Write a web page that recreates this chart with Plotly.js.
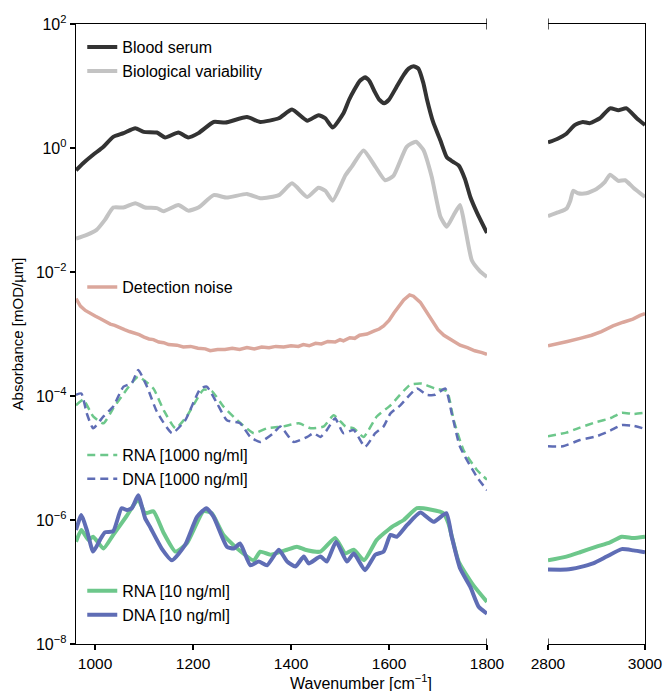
<!DOCTYPE html>
<html>
<head>
<meta charset="utf-8">
<script src="https://cdn.plot.ly/plotly-3.0.1.min.js"></script>
<style>html,body{margin:0;padding:0;background:#fff;}#chart{width:663px;height:691px;}</style>
</head>
<body>
<div id="chart"></div>
<script>
// ---- Data (values given as log10 of absorbance in mOD/µm) ----
const serumWnL = [961, 975, 996, 1017, 1037, 1058, 1082, 1099, 1126, 1143, 1170, 1190, 1211, 1242, 1266, 1310, 1337, 1375, 1402, 1433, 1456, 1470, 1485, 1507, 1518, 1530, 1540, 1551, 1560, 1570, 1580, 1590, 1600, 1615, 1630, 1640, 1650, 1660, 1670, 1677, 1690, 1705, 1718, 1730, 1742, 1755, 1766, 1780, 1800];
const serumLogL = [-0.36, -0.25, -0.11, 0.02, 0.18, 0.24, 0.32, 0.26, 0.25, 0.17, 0.25, 0.17, 0.24, 0.42, 0.41, 0.50, 0.42, 0.48, 0.62, 0.44, 0.53, 0.48, 0.33, 0.56, 0.77, 0.95, 1.08, 1.14, 1.08, 0.92, 0.78, 0.72, 0.78, 0.98, 1.18, 1.28, 1.32, 1.28, 1.05, 0.80, 0.42, 0.12, -0.15, -0.22, -0.28, -0.50, -0.79, -1.05, -1.37];
const serumWnR = [2800, 2820, 2838, 2855, 2872, 2886, 2907, 2928, 2945, 2962, 2983, 3000];
const serumLogR = [0.09, 0.15, 0.23, 0.37, 0.42, 0.40, 0.48, 0.64, 0.61, 0.64, 0.48, 0.37];

const bioWnL = [961, 983, 1003, 1020, 1037, 1058, 1082, 1102, 1126, 1140, 1170, 1190, 1211, 1242, 1269, 1310, 1337, 1375, 1402, 1433, 1456, 1470, 1485, 1511, 1524, 1548, 1572, 1592, 1609, 1636, 1655, 1670, 1687, 1705, 1718, 1732, 1745, 1755, 1769, 1785, 1800];
const bioLogL = [-1.46, -1.40, -1.32, -1.16, -0.96, -0.96, -0.89, -0.96, -0.97, -1.02, -0.92, -1.01, -0.96, -0.76, -0.80, -0.74, -0.81, -0.76, -0.57, -0.79, -0.64, -0.69, -0.85, -0.44, -0.30, -0.04, -0.30, -0.52, -0.45, 0.02, 0.10, -0.03, -0.46, -1.11, -1.27, -1.08, -0.92, -1.27, -1.81, -1.98, -2.08];
const bioWnR = [2800, 2820, 2838, 2846, 2852, 2862, 2879, 2900, 2917, 2928, 2945, 2959, 2976, 3000];
const bioLogR = [-1.10, -1.04, -0.98, -0.85, -0.69, -0.73, -0.73, -0.66, -0.55, -0.43, -0.53, -0.52, -0.64, -0.79];

const noiseWnL = [961, 970, 980, 990, 1000, 1010, 1020, 1031, 1040, 1050, 1060, 1070, 1078, 1090, 1100, 1110, 1119, 1130, 1140, 1150, 1167, 1180, 1195, 1210, 1225, 1235, 1250, 1265, 1280, 1295, 1310, 1325, 1340, 1355, 1369, 1385, 1400, 1415, 1425, 1437, 1450, 1462, 1475, 1490, 1500, 1507, 1520, 1530, 1540, 1555, 1570, 1580, 1589, 1600, 1610, 1620, 1630, 1642, 1650, 1664, 1675, 1690, 1700, 1712, 1725, 1735, 1745, 1760, 1775, 1790, 1800];
const noiseLogL = [-2.43, -2.55, -2.62, -2.67, -2.71, -2.75, -2.80, -2.84, -2.86, -2.90, -2.93, -2.96, -2.98, -3.01, -3.05, -3.08, -3.09, -3.13, -3.14, -3.17, -3.18, -3.21, -3.20, -3.23, -3.24, -3.27, -3.25, -3.25, -3.23, -3.25, -3.22, -3.24, -3.21, -3.22, -3.20, -3.21, -3.19, -3.20, -3.17, -3.19, -3.15, -3.16, -3.12, -3.13, -3.09, -3.11, -3.06, -3.07, -3.02, -3.00, -2.95, -2.92, -2.87, -2.78, -2.66, -2.55, -2.45, -2.37, -2.39, -2.49, -2.62, -2.80, -2.93, -3.02, -3.08, -3.12, -3.18, -3.22, -3.27, -3.30, -3.33];
const noiseWnR = [2800, 2820, 2840, 2866, 2890, 2910, 2934, 2955, 2975, 2990, 3000];
const noiseLogR = [-3.19, -3.16, -3.12, -3.07, -3.02, -2.96, -2.87, -2.81, -2.76, -2.70, -2.67];

const rna1000WnL = [961, 976, 996, 1017, 1037, 1064, 1088, 1119, 1140, 1164, 1187, 1221, 1238, 1262, 1290, 1324, 1351, 1385, 1416, 1440, 1467, 1487, 1511, 1528, 1548, 1575, 1603, 1643, 1667, 1694, 1718, 1732, 1752, 1779, 1800];
const rna1000LogL = [-4.15, -4.06, -4.33, -4.44, -4.20, -3.90, -3.69, -3.88, -4.23, -4.52, -4.33, -3.90, -3.92, -4.17, -4.39, -4.60, -4.52, -4.49, -4.44, -4.52, -4.49, -4.31, -4.49, -4.52, -4.66, -4.33, -4.15, -3.82, -3.80, -3.88, -3.92, -4.39, -4.87, -5.19, -5.35];
const rna1000WnR = [2800, 2838, 2866, 2900, 2928, 2952, 2976, 3000];
const rna1000LogR = [-4.65, -4.59, -4.51, -4.42, -4.36, -4.27, -4.29, -4.27];

const dna1000WnL = [961, 972, 983, 996, 1017, 1037, 1058, 1075, 1088, 1106, 1126, 1157, 1184, 1215, 1228, 1249, 1269, 1296, 1317, 1337, 1364, 1378, 1405, 1433, 1446, 1460, 1473, 1490, 1507, 1528, 1551, 1572, 1589, 1603, 1623, 1657, 1677, 1694, 1715, 1728, 1745, 1779, 1800];
const dna1000LogL = [-3.98, -3.96, -4.28, -4.52, -4.33, -4.17, -3.85, -3.79, -3.58, -3.85, -4.25, -4.60, -4.39, -3.88, -3.85, -4.12, -4.39, -4.44, -4.66, -4.74, -4.60, -4.49, -4.74, -4.66, -4.60, -4.66, -4.55, -4.36, -4.60, -4.55, -4.82, -4.60, -4.49, -4.28, -4.15, -3.88, -3.98, -3.98, -3.88, -4.28, -4.82, -5.30, -5.52];
const dna1000WnR = [2800, 2831, 2866, 2900, 2928, 2952, 2976, 3000];
const dna1000LogR = [-4.81, -4.81, -4.71, -4.65, -4.56, -4.47, -4.48, -4.53];

const rna10WnL = [961, 972, 986, 996, 1017, 1037, 1064, 1088, 1102, 1119, 1140, 1164, 1187, 1221, 1238, 1262, 1290, 1324, 1337, 1358, 1392, 1412, 1429, 1460, 1490, 1511, 1528, 1549, 1575, 1606, 1630, 1657, 1684, 1711, 1721, 1742, 1772, 1800];
const rna10LogL = [-6.35, -6.16, -6.32, -6.27, -6.46, -6.24, -5.94, -5.67, -5.89, -5.86, -6.21, -6.51, -6.38, -5.86, -5.89, -6.24, -6.46, -6.65, -6.51, -6.56, -6.48, -6.43, -6.48, -6.51, -6.29, -6.54, -6.48, -6.65, -6.32, -6.11, -6.00, -5.81, -5.83, -5.89, -6.05, -6.67, -7.05, -7.32];
const rna10WnR = [2800, 2838, 2866, 2900, 2928, 2952, 2976, 3000];
const rna10LogR = [-6.65, -6.59, -6.52, -6.43, -6.36, -6.27, -6.29, -6.27];

const dna10WnL = [961, 972, 983, 996, 1010, 1020, 1037, 1054, 1065, 1075, 1088, 1102, 1112, 1136, 1157, 1184, 1208, 1227, 1242, 1269, 1283, 1296, 1317, 1334, 1351, 1375, 1392, 1409, 1426, 1436, 1460, 1473, 1492, 1514, 1528, 1551, 1572, 1589, 1603, 1616, 1637, 1664, 1691, 1717, 1728, 1745, 1766, 1783, 1800];
const dna10LogL = [-6.16, -5.92, -6.16, -6.51, -6.32, -6.20, -6.18, -5.81, -5.84, -5.81, -5.60, -5.97, -6.11, -6.46, -6.65, -6.40, -5.95, -5.81, -5.95, -6.43, -6.46, -6.38, -6.73, -6.67, -6.73, -6.48, -6.67, -6.75, -6.59, -6.70, -6.59, -6.67, -6.35, -6.67, -6.54, -6.81, -6.56, -6.51, -6.24, -6.27, -6.08, -5.88, -6.03, -5.89, -6.27, -6.78, -7.08, -7.40, -7.51];
const dna10WnR = [2800, 2838, 2866, 2893, 2921, 2952, 2976, 3000];
const dna10LogR = [-6.80, -6.80, -6.76, -6.70, -6.59, -6.47, -6.49, -6.52];

const seriesNames = ['Blood serum', 'Biological variability', 'Detection noise', 'RNA [1000 ng/ml]', 'DNA [1000 ng/ml]', 'RNA [10 ng/ml]', 'DNA [10 ng/ml]'];
const yTickVals = [1e-8, 1e-6, 1e-4, 1e-2, 1e0, 1e2];
const yTickText = ['10<sup>−8</sup>', '10<sup>−6</sup>', '10<sup>−4</sup>', '10<sup>−2</sup>', '10<sup>0</sup>', '10<sup>2</sup>'];
const xTickValsL = [1000, 1200, 1400, 1600, 1800];
const xTickValsR = [2800, 3000];
const xTitle = 'Wavenumber [cm<sup>−1</sup>]';
const yTitle = 'Absorbance [mOD/µm]';

// ---- Styles ----
const toVal = a => a.map(v => Math.pow(10, v));
const styles = [
  {color: '#333333', width: 4, dash: 'solid', legend: 'legend'},
  {color: '#c3c3c3', width: 4, dash: 'solid', legend: 'legend'},
  {color: '#dba79c', width: 3.5, dash: 'solid', legend: 'legend2'},
  {color: '#6dc78b', width: 2.5, dash: '8px,5px', legend: 'legend3'},
  {color: '#5f6db5', width: 2.5, dash: '8px,5px', legend: 'legend3'},
  {color: '#6dc78b', width: 4, dash: 'solid', legend: 'legend4'},
  {color: '#5f6db5', width: 4, dash: 'solid', legend: 'legend4'}
];
const leftData = [[serumWnL, serumLogL], [bioWnL, bioLogL], [noiseWnL, noiseLogL], [rna1000WnL, rna1000LogL], [dna1000WnL, dna1000LogL], [rna10WnL, rna10LogL], [dna10WnL, dna10LogL]];
const rightData = [[serumWnR, serumLogR], [bioWnR, bioLogR], [noiseWnR, noiseLogR], [rna1000WnR, rna1000LogR], [dna1000WnR, dna1000LogR], [rna10WnR, rna10LogR], [dna10WnR, dna10LogR]];

const traces = [];
seriesNames.forEach((name, i) => {
  const s = styles[i];
  const shape = i === 2 ? 'linear' : 'spline';
  traces.push({
    x: leftData[i][0], y: toVal(leftData[i][1]), name: name, type: 'scatter', mode: 'lines',
    xaxis: 'x', yaxis: 'y', legend: s.legend, legendgroup: name,
    line: {color: s.color, width: s.width, dash: s.dash, shape: shape, smoothing: 0.5}
  });
  traces.push({
    x: rightData[i][0], y: toVal(rightData[i][1]), name: name, type: 'scatter', mode: 'lines',
    xaxis: 'x2', yaxis: 'y2', legend: s.legend, legendgroup: name, showlegend: false,
    line: {color: s.color, width: s.width, dash: s.dash, shape: shape, smoothing: 0.5}
  });
});

const fontFam = 'Liberation Sans, Arial, sans-serif';
const legendCommon = {bgcolor: 'rgba(0,0,0,0)', borderwidth: 0, font: {family: fontFam, size: 16, color: '#000'}, xanchor: 'left', yanchor: 'top', tracegroupgap: 0, itemwidth: 30};

const capLen = 0.009;
const capShapes = [];
[['x', 1800], ['x2', 2800]].forEach(([ax, v]) => {
  capShapes.push({type: 'line', xref: ax, yref: 'paper', x0: v, x1: v, y0: -capLen, y1: capLen, line: {color: '#000', width: 1.3}});
  capShapes.push({type: 'line', xref: ax, yref: 'paper', x0: v, x1: v, y0: 1 - capLen, y1: 1 + capLen, line: {color: '#000', width: 1.3}});
});

const layout = {
  width: 663, height: 691,
  margin: {l: 76, r: 18, t: 24, b: 47, pad: 0},
  paper_bgcolor: '#fff', plot_bgcolor: '#fff',
  font: {family: fontFam, size: 16, color: '#000'},
  showlegend: true,
  xaxis: {
    domain: [0, 0.7223], range: [961, 1800], tickvals: xTickValsL, ticks: 'outside', ticklen: 5, tickwidth: 1.3, tickcolor: '#000',
    showline: true, mirror: true, linecolor: '#000', linewidth: 1.3, showgrid: false, zeroline: false,
    tickfont: {family: fontFam, size: 15.5}, anchor: 'y'
  },
  xaxis2: {
    domain: [0.8295, 1], range: [2800, 3000], tickvals: xTickValsR, ticks: 'outside', ticklen: 5, tickwidth: 1.3, tickcolor: '#000',
    showline: true, mirror: true, linecolor: '#000', linewidth: 1.3, showgrid: false, zeroline: false,
    tickfont: {family: fontFam, size: 15.5}, anchor: 'y2'
  },
  yaxis: {
    type: 'log', range: [-8, 2], tickvals: yTickVals, ticktext: yTickText, ticks: 'outside', ticklen: 5, tickwidth: 1.3, tickcolor: '#000',
    showline: true, linecolor: '#000', linewidth: 1.3, showgrid: false, zeroline: false, anchor: 'x',
    tickfont: {family: fontFam, size: 16},
    title: {text: yTitle, font: {family: fontFam, size: 15}, standoff: 8}
  },
  yaxis2: {
    type: 'log', range: [-8, 2], matches: 'y', anchor: 'x2', side: 'right', showline: true, linecolor: '#000', linewidth: 1.3,
    ticks: '', showticklabels: false, showgrid: false, zeroline: false
  },
  legend: Object.assign({}, legendCommon, {x: 0.011, y: 0.99}),
  legend2: Object.assign({}, legendCommon, {x: 0.011, y: 0.603}),
  legend3: Object.assign({}, legendCommon, {x: 0.011, y: 0.332}),
  legend4: Object.assign({}, legendCommon, {x: 0.011, y: 0.113}),
  shapes: capShapes,
  annotations: [{
    text: xTitle, xref: 'paper', yref: 'paper', x: 0.5, y: -0.061, xanchor: 'center', yanchor: 'middle',
    showarrow: false, font: {family: fontFam, size: 16, color: '#000'}
  }]
};

Plotly.newPlot('chart', traces, layout, {displayModeBar: false, staticPlot: true});
</script>
</body>
</html>
